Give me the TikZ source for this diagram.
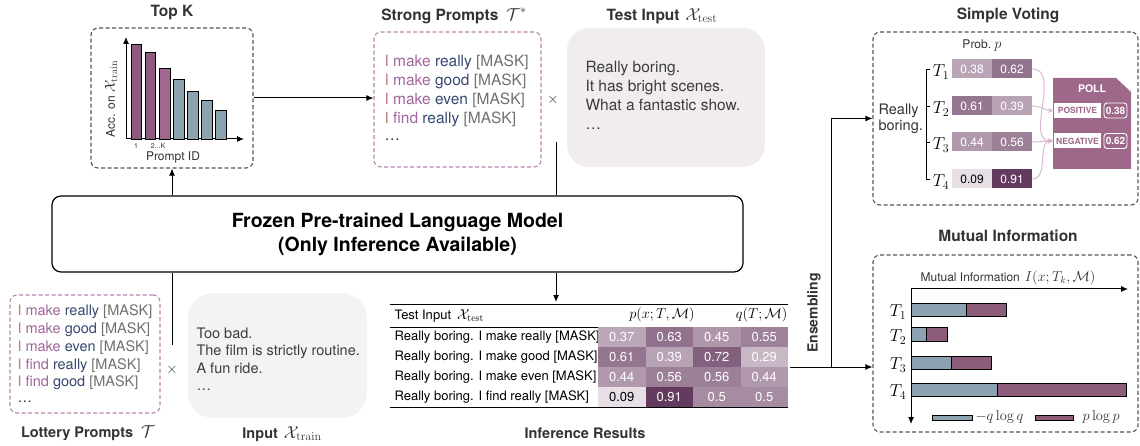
\documentclass[tikz,border=0pt]{standalone}
\usepackage[no-math]{fontspec}
\setmainfont{TeX Gyre Heros}
\usetikzlibrary{arrows.meta,positioning,calc}

\definecolor{txt}{HTML}{333333}
\definecolor{graytxt}{HTML}{3C3C3C}
\definecolor{boxgray}{HTML}{555555}
\definecolor{pboxcol}{HTML}{B983AC}
\definecolor{bardark}{HTML}{8C5A7F}
\definecolor{barmid}{HTML}{A0688F}
\definecolor{barblue}{HTML}{8DA2B1}
\definecolor{mipurple}{HTML}{8C5C7A}
\definecolor{testbg}{HTML}{F1ECEF}
\definecolor{inbg}{HTML}{F3F3F5}
\definecolor{vdark}{HTML}{56284F}
\definecolor{vlight}{HTML}{F6F1F5}
\definecolor{pollcol}{HTML}{9D6889}
\definecolor{votecol}{HTML}{D8B9CF}
\definecolor{pI}{HTML}{C47A8C}
\definecolor{pverb}{HTML}{A0649A}
\definecolor{pword}{HTML}{354770}
\definecolor{pmask}{HTML}{707070}

\newcommand{\lprompt}[2]{\textcolor{pI}{I} \textcolor{pverb}{#1} \textcolor{pword}{#2} \textcolor{pmask}{[MASK]}}
\newcommand{\mth}[2]{{\fontsize{#1}{#1}\selectfont$#2$}}

\begin{document}
\begin{tikzpicture}[x=1pt,y=-1pt,
    every node/.style={text=txt},
    title/.style={font=\fontsize{15.5}{18}\selectfont\bfseries, text=txt},
    lowtitle/.style={font=\fontsize{14.5}{17}\selectfont\bfseries, text=txt},
    dashbox/.style={draw=boxgray, line width=1.1pt, dash pattern=on 4pt off 2.5pt, rounded corners=7pt},
    promptbox/.style={draw=pboxcol, line width=1.1pt, dash pattern=on 4pt off 2.5pt, rounded corners=7pt},
    bigprompt/.style={anchor=west, font=\fontsize{15.5}{18}\selectfont},
    smallprompt/.style={anchor=west, font=\fontsize{14.5}{17}\selectfont},
    conn/.style={line width=1pt, draw=black},
    tip/.style={-{Latex[length=7pt,width=6pt]}},
    bar/.style={draw=black, line width=0.8pt},
    tab/.style={font=\fontsize{13}{15}\selectfont},
    tlabel/.style={font=\fontsize{17}{18}\selectfont, text=black},
    cell/.style={minimum width=47.5pt, minimum height=20pt, inner sep=0pt, text=white, font=\fontsize{13}{15}\selectfont},
    vcell/.style={minimum width=40pt, minimum height=19pt, inner sep=0pt, text=white, font=\fontsize{12}{14}\selectfont},
    vote/.style={draw=votecol, line width=1pt, -{Stealth[length=6pt,width=5pt]}}]

    \useasboundingbox (0,0) rectangle (1140,446);

    % top k
    \node[title] (topktitle) at (172,13) {Top K};
    \node[dashbox, minimum width=162pt, minimum height=140pt] (topk) at (172,98) {};
    \coordinate (O) at (126,139);
    \draw[conn, tip] (O) -- (126,37);
    \draw[conn, tip] (O) -- (244,139);
    \draw[bar, fill=bardark] (131,139) rectangle (141,44);
    \draw[bar, fill=bardark] (145,139) rectangle (155.5,52);
    \draw[bar, fill=barmid] (159,139) rectangle (170,68);
    \draw[bar, fill=barblue] (173.5,139) rectangle (184,79);
    \draw[bar, fill=barblue] (187.5,139) rectangle (198,91);
    \draw[bar, fill=barblue] (201.5,139) rectangle (212,100);
    \draw[bar, fill=barblue] (215.5,139) rectangle (226,110);
    \node[font=\fontsize{7}{8}\selectfont] (tickone) at (136,146) {1};
    \node[font=\fontsize{7}{8}\selectfont] (tickk) at (158,146) {2...K};
    \node[font=\fontsize{12}{14}\selectfont] (promptid) at (173,157) {Prompt ID};
    \node[font=\fontsize{12}{14}\selectfont, rotate=90] (accon) at (111,99) {Acc. on \mth{14.4}{\mathcal{X}_{\mathrm{train}}}};

    % strong prompts
    \node[title] (strongtitle) at (454,16) {Strong Prompts\hspace{8pt}\mth{17.28}{\mathcal{T}^*}};
    \node[promptbox, minimum width=167pt, minimum height=135pt] (strong) at (457.5,99.5) {};
    \node[bigprompt] (sone) at (381,62) {\lprompt{make}{really}};
    \node[bigprompt] (stwo) at (381,81) {\lprompt{make}{good}};
    \node[bigprompt] (sthree) at (381,100) {\lprompt{make}{even}};
    \node[bigprompt] (sfour) at (381,119) {\lprompt{find}{really}};
    \node[bigprompt] (sdots) at (381,140) {\dots};
    \node[font=\fontsize{14}{16}\selectfont] (timesone) at (553,100) {$\times$};

    % test input
    \node[title] (testtitle) at (662,16) {Test Input\hspace{6pt}\mth{17.28}{\mathcal{X}_{\mathrm{test}}}};
    \node[fill=testbg, rounded corners=22pt, minimum width=198pt, minimum height=139pt] (test) at (666,97.5) {};
    \node[anchor=north west, align=left, text=graytxt, font=\fontsize{15.5}{19}\selectfont] (testtxt) at (582,58) {Really boring.\\It has bright scenes.\\What a fantastic show.\\\dots};

    % language model
    \node[draw, line width=1.2pt, rounded corners=9pt, minimum width=691pt, minimum height=76pt, align=center, font=\fontsize{19.5}{24}\selectfont\bfseries, text=black] (lm) at (397.5,234) {Frozen Pre-trained Language Model\\(Only Inference Available)};

    \coordinate (lotjoin) at (172,345);
    \coordinate (strongjoin) at (556,142);
    \coordinate (tabletop) at (556,302);
    \draw[conn] (lotjoin) -- (lotjoin |- lm.south);
    \draw[conn, tip] (lotjoin |- lm.north) -- (topk.south);
    \draw[conn, tip] (topk.east) -- (topk.east -| strong.west);
    \draw[conn] (strongjoin) -- (strongjoin |- lm.north);
    \draw[conn, tip] (strongjoin |- lm.south) -- (tabletop);

    % lottery prompts
    \node[promptbox, minimum width=150pt, minimum height=118pt] (lottery) at (85,354) {};
    \node[smallprompt] (lone) at (14,312) {\lprompt{make}{really}};
    \node[smallprompt] (ltwo) at (14,330) {\lprompt{make}{good}};
    \node[smallprompt] (lthree) at (14,348) {\lprompt{make}{even}};
    \node[smallprompt] (lfour) at (14,366) {\lprompt{find}{really}};
    \node[smallprompt] (lfive) at (14,383) {\lprompt{find}{good}};
    \node[smallprompt] (ldots) at (14,402) {\dots};
    \node[lowtitle] (lotterytitle) at (88,433) {Lottery Prompts\hspace{8pt}\mth{17.28}{\mathcal{T}}};
    \node[font=\fontsize{14}{16}\selectfont] (timestwo) at (172,370) {$\times$};
    \node[fill=inbg, rounded corners=25pt, minimum width=179pt, minimum height=125pt] (input) at (277.5,355.5) {};
    \node[anchor=north west, align=left, text=graytxt, font=\fontsize{14.5}{17.5}\selectfont] (inputtxt) at (193,324) {Too bad.\\The film is strictly routine.\\A fun ride.\\\dots};
    \node[lowtitle] (inputtitle) at (282,434) {Input\hspace{6pt}\mth{17.28}{\mathcal{X}_{\mathrm{train}}}};

    % inference results
    \draw[line width=1pt] (390,304) -- (788,304);
    \node[tab, anchor=west, text=black] (hdtest) at (391,316) {Test Input\hspace{6pt}\mth{14.4}{\mathcal{X}_{\mathrm{test}}}};
    \node[tab, text=black] (hdp) at (662,315) {\mth{14.4}{p(x;T,\mathcal{M})}};
    \node[tab, anchor=east, text=black] (hdq) at (791,315) {\mth{14.4}{q(T;\mathcal{M})}};
    \draw[line width=0.8pt] (390,327) -- (788,327);
    \node[tab, anchor=west, text=black] (rone) at (391,337) {Really boring. I make really [MASK]};
    \node[tab, anchor=west, text=black] (rtwo) at (391,357) {Really boring. I make good [MASK]};
    \node[tab, anchor=west, text=black] (rthree) at (391,377) {Really boring. I make even [MASK]};
    \node[tab, anchor=west, text=black] (rfour) at (391,397) {Really boring. I find really [MASK]};
    \node[cell, fill=vdark!37!vlight] (c11) at (621.75,337) {0.37};
    \node[cell, fill=vdark!63!vlight] (c12) at (669.25,337) {0.63};
    \node[cell, fill=vdark!45!vlight] (c13) at (716.75,337) {0.45};
    \node[cell, fill=vdark!55!vlight] (c14) at (764.25,337) {0.55};
    \node[cell, fill=vdark!61!vlight] (c21) at (621.75,357) {0.61};
    \node[cell, fill=vdark!39!vlight] (c22) at (669.25,357) {0.39};
    \node[cell, fill=vdark!72!vlight] (c23) at (716.75,357) {0.72};
    \node[cell, fill=vdark!29!vlight] (c24) at (764.25,357) {0.29};
    \node[cell, fill=vdark!44!vlight] (c31) at (621.75,377) {0.44};
    \node[cell, fill=vdark!56!vlight] (c32) at (669.25,377) {0.56};
    \node[cell, fill=vdark!56!vlight] (c33) at (716.75,377) {0.56};
    \node[cell, fill=vdark!44!vlight] (c34) at (764.25,377) {0.44};
    \node[cell, fill=vdark!9!vlight, text=black] (c41) at (621.75,397) {0.09};
    \node[cell, fill=vdark!91!vlight] (c42) at (669.25,397) {0.91};
    \node[cell, fill=vdark!50!vlight] (c43) at (716.75,397) {0.5};
    \node[cell, fill=vdark!50!vlight] (c44) at (764.25,397) {0.5};
    \draw[line width=1pt] (390,407) -- (788,407);
    \node[lowtitle] (inftitle) at (585,433) {Inference Results};

    % ensembling
    \coordinate (tableout) at (790,367);
    \coordinate (ensjoin) at (831,367);
    \node[font=\fontsize{14}{16}\selectfont\bfseries, rotate=90] (enslabel) at (814,313) {Ensembling};

    % simple voting
    \node[title] (votetitle) at (1008,15) {Simple Voting};
    \node[dashbox, minimum width=265pt, minimum height=173pt] (voting) at (1005.5,118.5) {};
    \node[font=\fontsize{12}{14}\selectfont] (prob) at (982,46) {Prob.\ \mth{14.4}{p}};
    \node[anchor=west, align=left, font=\fontsize{14.5}{15.5}\selectfont] (rb) at (875,119) {Really\\boring.};
    \draw[line width=0.9pt] (930,69) -- (926,69) -- (926,179) -- (930,179);
    \draw[line width=0.9pt] (926,106) -- (930,106);
    \draw[line width=0.9pt] (926,142) -- (930,142);
    \node[tlabel] (vtone) at (941,72) {$T_1$};
    \node[tlabel] (vttwo) at (941,109) {$T_2$};
    \node[tlabel] (vtthree) at (941,145) {$T_3$};
    \node[tlabel] (vtfour) at (941,182) {$T_4$};
    \node[vcell, fill=vdark!38!vlight] (v11) at (972,69) {0.38};
    \node[vcell, fill=vdark!62!vlight] (v12) at (1012,69) {0.62};
    \node[vcell, fill=vdark!61!vlight] (v21) at (972,106) {0.61};
    \node[vcell, fill=vdark!39!vlight] (v22) at (1012,106) {0.39};
    \node[vcell, fill=vdark!44!vlight] (v31) at (972,142) {0.44};
    \node[vcell, fill=vdark!56!vlight] (v32) at (1012,142) {0.56};
    \node[vcell, fill=vdark!9!vlight, text=black] (v41) at (972,179) {0.09};
    \node[vcell, fill=vdark!91!vlight] (v42) at (1012,179) {0.91};
    \fill[pollcol] (1053,78) -- (1116,78) -- (1131,92) -- (1131,169) -- (1053,169) -- cycle;
    \node[text=white, font=\fontsize{10.5}{12}\selectfont\bfseries] (polltitle) at (1092,89) {POLL};
    \node[fill=white, text=pollcol, inner sep=0pt, minimum width=47pt, minimum height=15pt, font=\fontsize{8.5}{10}\selectfont\bfseries] (pos) at (1077.5,110.5) {POSITIVE};
    \node[draw=white, line width=0.9pt, rounded corners=3pt, text=white, inner sep=0pt, minimum width=23pt, minimum height=15pt, font=\fontsize{10}{12}\selectfont\bfseries] (posval) at (1115.5,110.5) {0.38};
    \node[fill=white, text=pollcol, inner sep=0pt, minimum width=47pt, minimum height=15pt, font=\fontsize{8.5}{10}\selectfont\bfseries] (neg) at (1077.5,141) {NEGATIVE};
    \node[draw=white, line width=0.9pt, rounded corners=3pt, text=white, inner sep=0pt, minimum width=23pt, minimum height=15pt, font=\fontsize{10}{12}\selectfont\bfseries] (negval) at (1115.5,141) {0.62};
    \draw[vote] (v12.east) to[out=0, in=180] (neg.west);
    \draw[vote] (v22.east) to[out=0, in=180] (pos.west);
    \draw[vote] (v32.east) to[out=0, in=180] (neg.west);
    \draw[vote] (v42.east) to[out=0, in=180] (neg.west);

    % mutual information
    \node[title] (mititle) at (1008,236) {Mutual Information};
    \node[dashbox, minimum width=265pt, minimum height=177pt] (mi) at (1005.5,343.5) {};
    \draw[conn, tip] (ensjoin) |- (voting.west);
    \draw[conn, tip] (tableout) -- (tableout -| mi.west);
    \node[font=\fontsize{12}{14}\selectfont] (milabel) at (1008,278) {Mutual Information\hspace{5pt}\mth{14.4}{I(x;T_k,\mathcal{M})}};
    \coordinate (MO) at (911,289);
    \draw[conn, tip] (MO) -- (1128,289);
    \draw[conn, tip] (MO) -- (911,424);
    \draw[bar, fill=barblue] (911,303) rectangle (966,316);
    \draw[bar, fill=mipurple] (966,303) rectangle (1006,316);
    \draw[bar, fill=barblue] (911,327) rectangle (926,341);
    \draw[bar, fill=mipurple] (926,327) rectangle (947,341);
    \draw[bar, fill=barblue] (911,356) rectangle (951,369);
    \draw[bar, fill=mipurple] (951,356) rectangle (991,369);
    \draw[bar, fill=barblue] (911,383) rectangle (997,396);
    \draw[bar, fill=mipurple] (997,383) rectangle (1126,396);
    \node[tlabel] (mtone) at (898,312) {$T_1$};
    \node[tlabel] (mttwo) at (898,337) {$T_2$};
    \node[tlabel] (mtthree) at (898,365) {$T_3$};
    \node[tlabel] (mtfour) at (898,392) {$T_4$};
    \draw[bar, fill=barblue] (932,415) rectangle (972,420);
    \node[anchor=west, font=\fontsize{14.4}{15}\selectfont] (legq) at (972,417) {$-q\log q$};
    \draw[bar, fill=mipurple] (1035,415) rectangle (1073,420);
    \node[anchor=west, font=\fontsize{14.4}{15}\selectfont] (legp) at (1079,417) {$p\log p$};
\end{tikzpicture}
\end{document}
